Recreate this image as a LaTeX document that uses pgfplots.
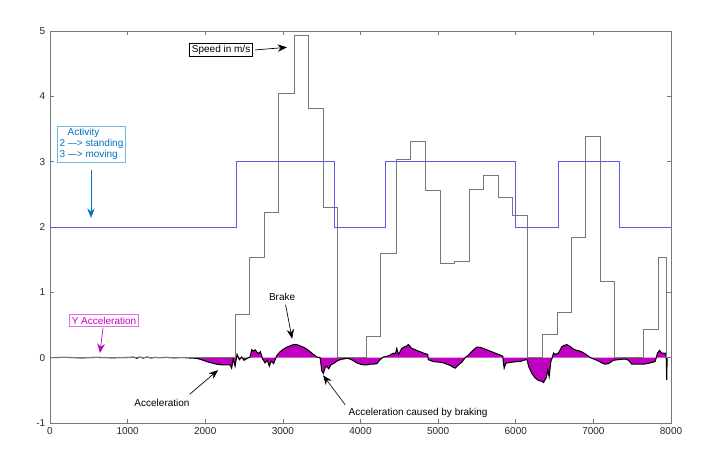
\documentclass[border=0pt]{standalone}
\usepackage{pgfplots}
\pgfplotsset{compat=1.18}
\usepackage{fontspec}
\setmainfont{Liberation Sans}
\usetikzlibrary{arrows.meta}

\definecolor{actblue}{RGB}{90,90,235}
\definecolor{speedgray}{RGB}{120,120,120}
\definecolor{accmag}{RGB}{192,0,192}
\definecolor{notebl}{RGB}{0,114,189}
\definecolor{noteblbox}{RGB}{110,185,230}
\definecolor{notemagbox}{RGB}{225,110,225}

% Y acceleration
\pgfplotstableread{
x y
0 0
200 0.005
400 -0.003
600 0.004
800 -0.002
1000 0.003
1080 0.008
1120 -0.01
1150 0.01
1200 -0.006
1250 0.01
1300 -0.005
1350 0.004
1400 0
1500 0.004
1600 -0.003
1700 0.002
1800 -0.005
1890 -0.01
1950 -0.03
2019 -0.06
2080 -0.08
2148 -0.10
2220 -0.11
2280 -0.11
2320 -0.11
2340 -0.16
2360 -0.02
2384 -0.13
2395 -0.05
2410 0.05
2440 -0.03
2470 0.01
2500 -0.04
2540 -0.01
2577 0.01
2599 0.12
2620 0.10
2642 0.12
2685 0.06
2710 0.09
2740 -0.02
2770 -0.08
2800 -0.04
2826 -0.13
2850 -0.05
2880 -0.09
2921 0.03
2964 0.09
3007 0.13
3050 0.16
3093 0.18
3136 0.20
3179 0.20
3222 0.18
3265 0.16
3308 0.13
3351 0.09
3394 0.05
3437 0.01
3480 0
3501 -0.20
3522 -0.24
3545 -0.15
3565 -0.13
3590 -0.17
3620 -0.11
3651 -0.09
3700 -0.05
3737 -0.03
3780 -0.02
3823 -0.01
3866 -0.02
3900 -0.04
3952 -0.08
4000 -0.10
4038 -0.11
4081 -0.11
4124 -0.10
4170 -0.10
4210 -0.09
4253 -0.03
4295 0.01
4340 0.02
4381 0.04
4424 0.07
4450 0.06
4467 0.14
4490 0.05
4510 0.09
4530 0.14
4575 0.17
4600 0.18
4617 0.20
4660 0.14
4690 0.13
4725 0.11
4770 0.09
4811 0.07
4867 0.05
4872 -0.03
4939 -0.06
5026 -0.07
5070 -0.08
5112 -0.10
5160 -0.12
5198 -0.15
5219 -0.16
5262 -0.11
5305 -0.07
5348 0
5391 0.04
5455 0.12
5498 0.16
5530 0.16
5563 0.15
5627 0.12
5713 0.08
5799 0.04
5834 0.02
5838 -0.05
5851 -0.16
5870 -0.09
5885 -0.08
5950 -0.07
6014 -0.06
6057 -0.06
6100 -0.04
6134 -0.03
6150 -0.04
6164 -0.13
6207 -0.24
6250 -0.31
6293 -0.35
6336 -0.36
6357 -0.38
6392 -0.31
6413 -0.19
6430 -0.29
6452 -0.06
6473 0.01
6486 0.07
6508 0.05
6551 0.07
6594 0.17
6630 0.19
6658 0.20
6701 0.17
6744 0.13
6790 0.11
6830 0.10
6894 0.06
6937 0.02
6980 -0.01
7045 -0.04
7110 -0.08
7152 -0.10
7195 -0.09
7259 -0.04
7324 -0.03
7410 -0.02
7453 -0.04
7496 -0.10
7560 -0.10
7646 -0.10
7732 -0.08
7796 -0.06
7826 0.07
7852 0.11
7882 0.07
7925 0.07
7938 0.04
7945 -0.34
7950 0
}\acctable

\begin{document}
\begin{tikzpicture}[
  note/.style={draw, fill=white, inner sep=1.6pt, font=\fontsize{7.5}{8.5}\selectfont, line width=0.5pt},
  arr/.style={-{Stealth[length=7pt,width=5.5pt]}, line width=0.5pt}]
\begin{axis}[name=ax,
  scale only axis, width=465.75pt, height=294pt,
  xmin=0, xmax=8000, ymin=-1, ymax=5,
  xtick={0,1000,...,8000}, ytick={-1,0,...,5},
  tick align=inside, major tick length=3pt,
  axis line style={speedgray, line width=0.6pt},
  every tick/.style={speedgray, line width=0.5pt},
  tick label style={font=\fontsize{7.5}{9}\selectfont, text=black!85},
  /pgf/number format/assume math mode=true,
  scaled x ticks=false,
  xticklabel={\pgfmathprintnumber[set thousands separator={}]{\tick}},
  clip=false]

  \addplot[fill=accmag, draw=none] table {\acctable} \closedcycle;
  \addplot[black, line width=0.8pt] table {\acctable};

  % speed in m/s
  \addplot[const plot, speedgray, line width=0.6pt] coordinates {
    (0,0) (2393,0.66) (2569,1.54) (2762,2.23) (2947,4.05) (3148,4.94)
    (3334,3.81) (3518,2.30) (3703,0) (4077,0.33) (4262,1.60) (4459,3.04)
    (4639,3.31) (4836,2.56) (5030,1.45) (5210,1.47) (5403,2.58) (5584,2.79)
    (5777,2.46) (5958,2.17) (6151,0) (6344,0.35) (6534,0.70) (6718,1.84)
    (6898,3.39) (7092,1.17) (7272,0) (7646,0.43) (7839,1.53) (7942,0) (8000,0)};

  % activity
  \addplot[const plot, actblue, line width=0.6pt] coordinates {
    (0,2) (2406,3) (3660,2) (4326,3) (5996,2) (6550,3) (7329,2) (8000,2)};

  % annotations
  \draw[arr, black] (axis cs:2640,4.71) -- (axis cs:3054,4.75);
  \node[note] at (axis cs:2204,4.71) {Speed in m/s};

  \draw[arr, notebl] (axis cs:528,2.87) -- (axis cs:528,2.14);
  \node[note, draw=noteblbox, text=notebl, align=left] at (axis cs:535,3.27)
    {\hspace{6pt}Activity\\2 --{}-> standing\\3 --{}-> moving};

  \draw[arr, accmag] (axis cs:683,0.46) -- (axis cs:644,0.07);
  \node[note, draw=notemagbox, text=accmag] at (axis cs:696,0.57) {Y Acceleration};

  \node[font=\fontsize{7.5}{8.5}\selectfont] at (axis cs:2990,0.93) {Brake};
  \draw[arr, black] (axis cs:3035,0.81) -- (axis cs:3119,0.29);

  \node[font=\fontsize{7.5}{8.5}\selectfont] at (axis cs:1443,-0.69) {Acceleration};
  \draw[arr, black] (axis cs:1800,-0.56) -- (axis cs:2165,-0.19);

  \node[font=\fontsize{7.5}{8.5}\selectfont] at (axis cs:4742,-0.84) {Acceleration caused by braking};
  \draw[arr, black] (axis cs:3802,-0.72) -- (axis cs:3518,-0.27);
\end{axis}
\path ([xshift=-37.5pt,yshift=-24.75pt]ax.south west) rectangle ([xshift=34.5pt,yshift=23.25pt]ax.north east);
\end{tikzpicture}
\end{document}
